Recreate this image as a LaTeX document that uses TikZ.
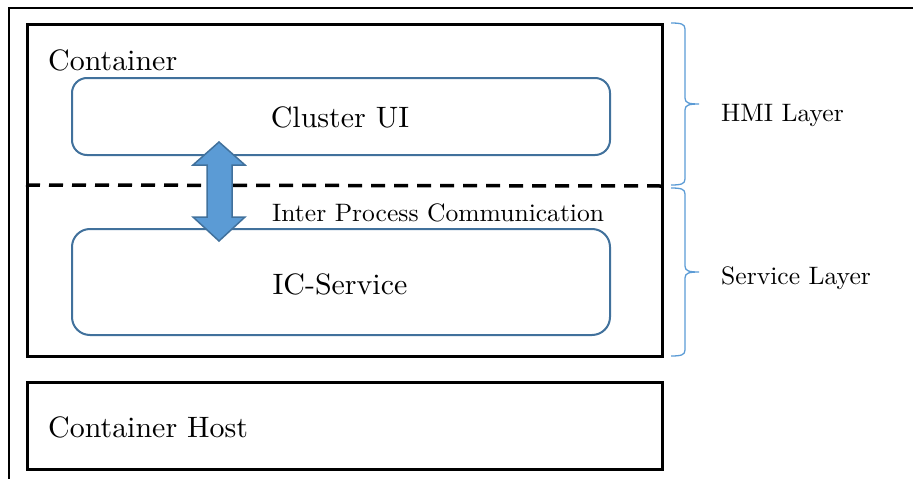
\documentclass[tikz,border=0pt]{standalone}
\usepackage{fontspec}
\setmainfont{lmroman10-regular.otf}[FakeStretch=1.015]
\definecolor{boxblue}{HTML}{41719C}
\definecolor{fillblue}{HTML}{5B9BD5}
\newcommand{\layerbrace}[3]{%
  \draw[bracestyle] (671,#1) .. controls (681,#1) and (685,#1+1) .. (685,#1+6)
    -- (685,#2-6) .. controls (685,#2-1) and (689,#2) .. (699,#2)
    .. controls (689,#2) and (685,#2+1) .. (685,#2+6)
    -- (685,#3-6) .. controls (685,#3-1) and (681,#3) .. (671,#3);}
\begin{document}
\begin{tikzpicture}[x=1pt,y=-1pt,
  bigtxt/.style={font=\fontsize{29.5}{34}\selectfont, inner sep=0pt},
  smalltxt/.style={font=\fontsize{25.2}{30}\selectfont, inner sep=0pt},
  blackbox/.style={draw=black, line width=3pt, inner sep=0pt, anchor=north west},
  roundbox/.style={draw=boxblue, line width=2pt, rounded corners=15pt, inner sep=0pt, anchor=north west},
  bracestyle/.style={draw=fillblue, line width=1.3pt}]
\useasboundingbox (0,0) rectangle (913,479);
% outer frame (only top and left visible)
\coordinate (ofbl) at (9,479);
\coordinate (oftl) at (9,8);
\coordinate (oftr) at (913,8);
\draw[line width=2.5pt] (ofbl) -- (oftl) -- (oftr);
% container
\node[blackbox, minimum width=635pt, minimum height=332pt] (container) at (26,23) {};
\node[bigtxt, anchor=base west] (containerlbl) at (48,70) {Container};
% cluster UI
\node[roundbox, minimum width=538pt, minimum height=77pt] (cluster) at (71,77) {};
\node[bigtxt] (clusterlbl) at (340,117) {Cluster UI};
% IC-Service
\node[roundbox, minimum width=538pt, minimum height=106pt, rounded corners=18pt] (icservice) at (71,228) {};
\node[bigtxt] (iclbl) at (340,284) {IC-Service};
% dashed separator
\coordinate (dashl) at (26,185);
\coordinate (dashr) at (661,186);
\draw[line width=3.5pt, dash pattern=on 14pt off 9pt] (dashl) -- (dashr);
% IPC label
\node[smalltxt, anchor=base west] (ipclbl) at (272,221) {Inter Process Communication};
% double block arrow
\draw[draw=boxblue, fill=fillblue, line width=1.5pt, line join=miter]
  (219,142) -- (245,165) -- (232,165) -- (232,217) -- (245,217) -- (219,241)
  -- (193,217) -- (207,217) -- (207,165) -- (193,165) -- cycle;
% container host
\node[blackbox, minimum width=635pt, minimum height=87pt] (host) at (26,381) {};
\node[bigtxt, anchor=base west] (hostlbl) at (48,437) {Container Host};
% braces
\layerbrace{23}{104}{185}
\layerbrace{188}{272}{356}
\node[smalltxt, anchor=base west] (hmilbl) at (721,121) {HMI Layer};
\node[smalltxt, anchor=base west] (svclbl) at (721,284) {Service Layer};
\end{tikzpicture}
\end{document}
